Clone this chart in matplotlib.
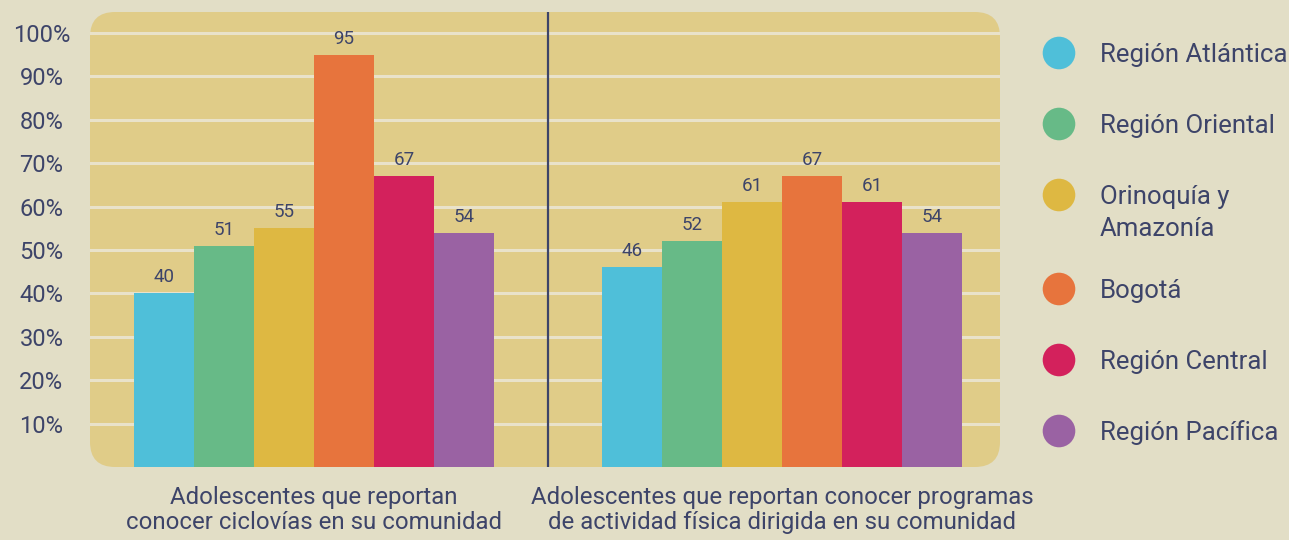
import matplotlib.pyplot as plt
import numpy as np
from matplotlib.patches import FancyBboxPatch, Circle

plt.rcParams['font.family'] = ['Roboto', 'DejaVu Sans']

REGIONS = ["Región Atlántica", "Región Oriental", "Orinoquía y\nAmazonía",
           "Bogotá", "Región Central", "Región Pacífica"]
COLORS = ["#4fbfd9", "#67ba87", "#deb842", "#e7743d", "#d3215c", "#9a62a3"]
GROUPS = ["Adolescentes que reportan\nconocer ciclovías en su comunidad",
          "Adolescentes que reportan conocer programas\nde actividad física dirigida en su comunidad"]
CICLOVIAS = [40, 51, 55, 95, 67, 54]
PROGRAMAS = [46, 52, 61, 67, 61, 54]
YTICKS = [10, 20, 30, 40, 50, 60, 70, 80, 90, 100]

BG = "#e2dec6"
PANEL = "#e0cc88"
GRID = "#e9e2ca"
NAVY = "#3d4469"

fig = plt.figure(figsize=(12.89, 5.40), dpi=100, facecolor=BG)
ax = fig.add_axes([90 / 1289, 73 / 540, 910 / 1289, 455 / 540])
ax.patch.set_visible(False)

# rounded panel behind everything
panel = FancyBboxPatch((0, 0), 1, 1, boxstyle="round,pad=0,rounding_size=0.0275",
                       mutation_aspect=910 / 455, transform=ax.transAxes,
                       facecolor=PANEL, edgecolor="none", zorder=0, clip_on=False)
ax.add_patch(panel)

group_centers = np.array([0.0, 7.8])
offsets = np.arange(len(REGIONS)) - (len(REGIONS) - 1) / 2
width = 1.0

for values, gc in zip([CICLOVIAS, PROGRAMAS], group_centers):
    xs = gc + offsets * width
    bars = ax.bar(xs, values, width=width, color=COLORS, zorder=2)
    for b, v in zip(bars, values):
        ax.annotate(str(v), (b.get_x() + b.get_width() / 2, b.get_height()),
                    xytext=(0, 5), textcoords="offset points", ha="center",
                    va="bottom", fontsize=13.5, color=NAVY)

for y in YTICKS:
    ax.axhline(y, color=GRID, lw=2.2, zorder=1)

ax.axvline(group_centers.mean(), color=NAVY, lw=1.6, zorder=3)

ax.set_xlim(-3.733, 11.433)
ax.set_ylim(0, 104.8)
ax.set_yticks(YTICKS)
ax.set_yticklabels([f"{t}%" for t in YTICKS], fontsize=17, color=NAVY, ha="center")
ax.tick_params(axis="y", length=0, pad=35)
ax.set_xticks(group_centers)
ax.set_xticklabels(GROUPS, fontsize=17.3, color=NAVY, linespacing=1.1)
ax.tick_params(axis="x", length=0, pad=14)
for s in ax.spines.values():
    s.set_visible(False)

# legend drawn in pixel space
lax = fig.add_axes([0, 0, 1, 1], zorder=5)
lax.set_xlim(0, 1289)
lax.set_ylim(540, 0)
lax.axis("off")
y = 53
for label, color in zip(REGIONS, COLORS):
    lax.add_patch(Circle((1059, y), 16.3, facecolor=color, edgecolor="none"))
    lines = label.split("\n")
    for j, line in enumerate(lines):
        lax.text(1100, y + 9 + j * 32, line, fontsize=18.5, color=NAVY,
                 ha="left", va="baseline")
    y += 71 + 23 * (len(lines) - 1)

fig.savefig("out.png", dpi=100, facecolor=BG)
